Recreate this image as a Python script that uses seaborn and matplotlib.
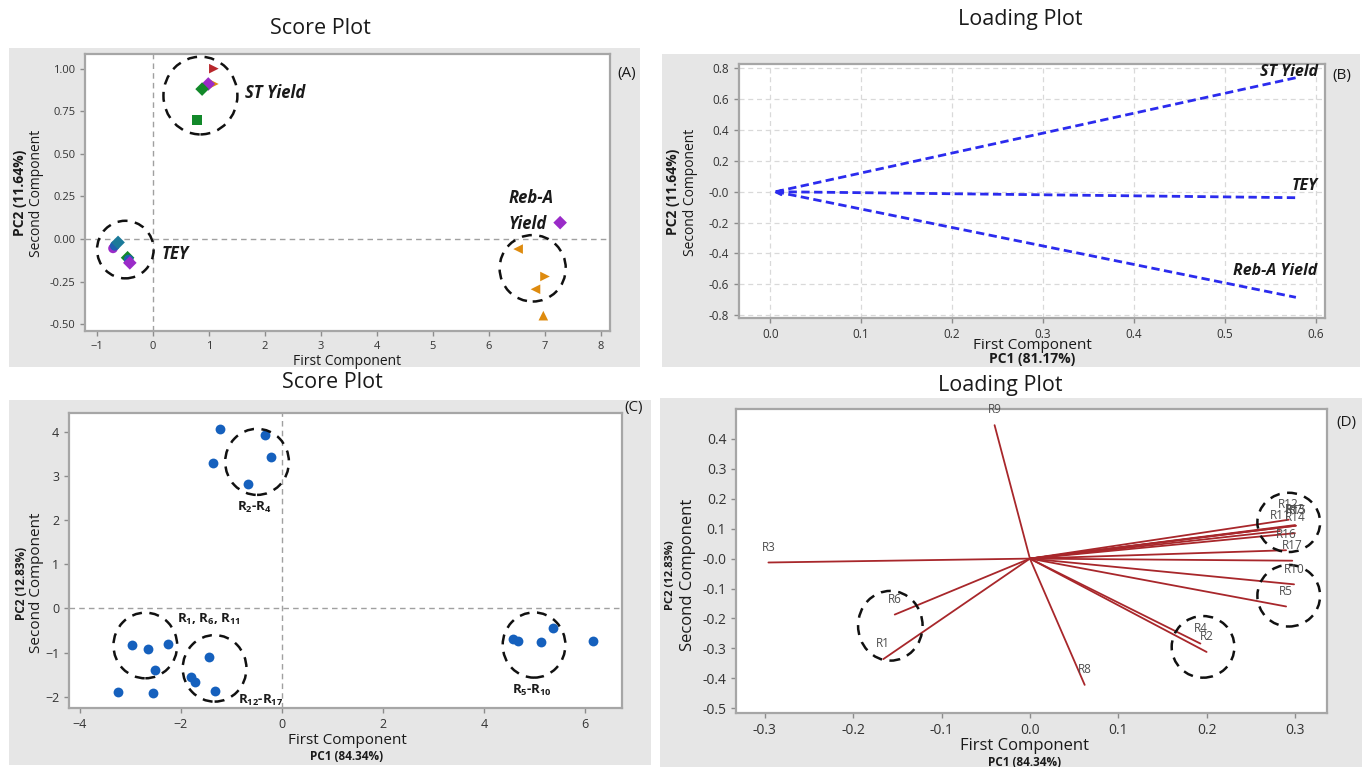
import numpy as np
import pandas as pd
import matplotlib
matplotlib.use("Agg")
import matplotlib.pyplot as plt
import seaborn as sns
from matplotlib.patches import Ellipse, Rectangle

# ---------------- data ----------------
# Panel A : score plot (responses)
A_pc1 = [1.09, 1.09, 0.99, 0.88, 0.79,
         -0.71, -0.68, -0.62, -0.45, -0.43, -0.41,
         7.27, 6.52, 7.00, 6.83, 6.97]
A_pc2 = [1.00, 0.91, 0.91, 0.88, 0.70,
         -0.055, -0.04, -0.02, -0.11, -0.12, -0.14,
         0.096, -0.059, -0.22, -0.295, -0.45]
A_colour = ["red", "orange", "purple", "green", "green",
            "purple", "blue", "teal", "green", "blue", "purple",
            "purple", "orange", "orange", "orange", "orange"]
A_marker = ["tri_r", "tri_r", "diamond", "diamond", "square",
            "circle", "circle", "diamond", "diamond", "circle", "diamond",
            "diamond", "tri_l", "tri_r", "tri_l", "tri_u"]
A_groups = ["ST Yield", "TEY", "Reb-A\nYield"]
A_ell_x = [0.85, -0.49, 6.78]
A_ell_y = [0.842, -0.062, -0.172]
A_ell_w = [1.32, 1.01, 1.18]
A_ell_h = [0.456, 0.338, 0.39]

# Panel B : loading plot (responses)
B_vars = ["ST Yield", "TEY", "Reb-A Yield"]
B_pc1 = [0.578, 0.578, 0.578]
B_pc2 = [0.739, -0.039, -0.685]

# Panel C : score plot (runs)
C_pc1 = [-1.22, -0.33, -0.22, -1.36, -0.67,
         -2.96, -2.64, -2.26, -2.50, -3.25, -2.55,
         -1.44, -1.79, -1.72, -1.33,
         4.57, 4.67, 5.12, 5.36, 6.15]
C_pc2 = [4.08, 3.94, 3.44, 3.30, 2.83,
         -0.83, -0.92, -0.81, -1.40, -1.90, -1.92,
         -1.11, -1.56, -1.67, -1.88,
         -0.70, -0.73, -0.77, -0.45, -0.73]
C_groups = ["R$_2$-R$_4$", "R$_1$, R$_6$, R$_{11}$", "R$_{12}$-R$_{17}$", "R$_5$-R$_{10}$"]
C_ell_x = [-0.49, -2.70, -1.33, 4.99]
C_ell_y = [3.33, -0.84, -1.36, -0.83]
C_ell_w = [1.26, 1.26, 1.26, 1.24]
C_ell_h = [1.50, 1.49, 1.51, 1.48]

# Panel D : loading plot (runs)
D_vars = ["R1", "R2", "R3", "R4", "R5", "R6", "R7", "R8", "R9", "R10",
          "R11", "R12", "R13", "R14", "R15", "R16", "R17"]
D_pc1 = [-0.166, 0.200, -0.296, 0.193, 0.290, -0.153, 0.301, 0.062, -0.040, 0.299,
         0.283, 0.293, 0.300, 0.300, 0.301, 0.290, 0.297]
D_pc2 = [-0.336, -0.312, -0.013, -0.284, -0.160, -0.187, 0.110, -0.422, 0.446, -0.086,
         0.092, 0.130, 0.112, 0.085, 0.110, 0.028, -0.007]
D_ell_x = [-0.158, 0.196, 0.293, 0.293]
D_ell_y = [-0.2245, -0.295, -0.124, 0.121]
D_ell_w = [0.073, 0.071, 0.071, 0.071]
D_ell_h = [0.233, 0.206, 0.206, 0.198]

# ---------------- style ----------------
sns.set_theme(style="ticks")
plt.rcParams["font.family"] = ["Open Sans", "DejaVu Sans"]
plt.rcParams["mathtext.fontset"] = "custom"
plt.rcParams["mathtext.rm"] = "Open Sans:bold"
plt.rcParams["mathtext.bf"] = "Open Sans:bold"
plt.rcParams["mathtext.default"] = "rm"

W, H = 1366, 767
fig = plt.figure(figsize=(W / 100, H / 100), dpi=100, facecolor="white")

def fx(px):
    return px / W

def fy(py):
    return 1 - py / H

def panel(bg, box):
    x0, y0, x1, y1 = bg
    fig.patches.append(Rectangle((fx(x0), fy(y1)), fx(x1 - x0), (y1 - y0) / H,
                                 transform=fig.transFigure, facecolor="#E6E6E6",
                                 edgecolor="none", zorder=-10))
    a0, b0, a1, b1 = box
    ax = fig.add_axes([fx(a0), fy(b1), fx(a1 - a0), (b1 - b0) / H])
    ax.set_zorder(1)
    ax.set_facecolor("white")
    for s in ax.spines.values():
        s.set_color("#A6A6A6")
        s.set_linewidth(1.6)
    ax.tick_params(colors="#8C8C8C", labelcolor="#333333", length=3.5, width=1)
    return ax

TXT = "#1A1A1A"

# ---------------- Panel A ----------------
axA = panel((9, 48, 640, 367), (85, 54, 610, 331))
dfA = pd.DataFrame({"pc1": A_pc1, "pc2": A_pc2, "col": A_colour, "mk": A_marker})
palA = {"red": "#B8262B", "orange": "#DE8B0F", "purple": "#9A2BC8",
        "green": "#12892A", "blue": "#1F5FB0", "teal": "#1B7A9A"}
mkA = {"tri_r": ">", "tri_l": "<", "tri_u": "^", "diamond": "D", "square": "s", "circle": "o"}
sns.scatterplot(data=dfA, x="pc1", y="pc2", hue="col", style="mk", palette=palA,
                markers=mkA, s=48, linewidth=0, legend=False, ax=axA, zorder=3)
axA.axvline(0, color="#A0A0A0", ls=(0, (4, 3)), lw=1, zorder=1)
axA.axhline(0, color="#A0A0A0", ls=(0, (4, 3)), lw=1, zorder=1)
for x, y, w, h in zip(A_ell_x, A_ell_y, A_ell_w, A_ell_h):
    axA.add_patch(Ellipse((x, y), w, h, fill=False, ec="#111111", lw=1.8, ls=(0, (4, 3)), zorder=4))
axA.text(1.65, 0.86, A_groups[0], fontsize=12, fontweight="bold", style="italic", color=TXT, va="center")
axA.text(0.15, -0.09, A_groups[1], fontsize=12, fontweight="bold", style="italic", color=TXT, va="center")
axA.text(6.35, 0.165, A_groups[2], fontsize=12, fontweight="bold", style="italic", color=TXT,
         va="center", linespacing=1.55)
axA.set_xlim(-1.21, 8.16)
axA.set_ylim(-0.54, 1.086)
axA.set_xticks(np.arange(-1, 9, 1))
axA.set_yticks([-0.5, -0.25, 0, 0.25, 0.5, 0.75, 1.0])
axA.set_yticklabels([f"{v:.2f}" for v in [-0.5, -0.25, 0, 0.25, 0.5, 0.75, 1.0]])
axA.tick_params(labelsize=8)
axA.set_xlabel("")
axA.set_ylabel("")
fig.text(fx(347), fy(361), "First Component", fontsize=10, ha="center", va="center", color=TXT)
fig.text(fx(20), fy(193), "PC2 (11.64%)", fontsize=10, fontweight="bold", rotation=90,
         ha="center", va="center", color=TXT)
fig.text(fx(37), fy(193), "Second Component", fontsize=10, rotation=90, ha="center", va="center", color=TXT)
fig.text(fx(627), fy(73), "(A)", fontsize=11, ha="center", va="center", color=TXT)
fig.text(fx(320), fy(28), "Score Plot", fontsize=15.5, ha="center", va="center", color=TXT)

# ---------------- Panel B ----------------
axB = panel((662, 54, 1360, 367), (739, 64, 1325, 318))
ORIGIN_B = (0.006, 0.0)
rows = []
for v, x, y in zip(B_vars, B_pc1, B_pc2):
    rows.append({"var": v, "pc1": ORIGIN_B[0], "pc2": ORIGIN_B[1]})
    rows.append({"var": v, "pc1": x, "pc2": y})
dfB = pd.DataFrame(rows)
sns.lineplot(data=dfB, x="pc1", y="pc2", units="var", estimator=None, sort=False,
             color="#2B2BEE", lw=2.0, ls=(0, (3, 1.6)), ax=axB, zorder=3)
axB.plot([ORIGIN_B[0] + 0.002], [ORIGIN_B[1]], marker="<", color="#2B2BEE", ms=5, zorder=4)
axB.grid(True, color="#D9D9D9", ls=(0, (4, 3)), lw=0.9)
axB.set_axisbelow(True)
labB_off = [0.04, 0.078, 0.17]
for v, x, y, d in zip(B_vars, B_pc1, B_pc2, labB_off):
    axB.text(x + 0.024, y + d, v, fontsize=11.5, fontweight="bold", style="italic",
             color=TXT, ha="right", va="center")
axB.set_xlim(-0.0344, 0.610)
axB.set_ylim(-0.819, 0.828)
axB.set_xticks(np.round(np.arange(0, 0.61, 0.1), 1))
axB.set_xticklabels([f"{v:.1f}" for v in np.arange(0, 0.61, 0.1)])
axB.set_yticks(np.round(np.arange(-0.8, 0.81, 0.2), 1))
axB.set_yticklabels([f"{v:.1f}" for v in np.arange(-0.8, 0.81, 0.2)])
axB.tick_params(labelsize=8.5)
axB.set_xlabel("")
axB.set_ylabel("")
fig.text(fx(1032), fy(346), "First Component", fontsize=11, ha="center", va="center", color=TXT)
fig.text(fx(1032), fy(359), "PC1 (81.17%)", fontsize=10, fontweight="bold", ha="center", va="center", color=TXT)
fig.text(fx(673), fy(192), "PC2 (11.64%)", fontsize=10, fontweight="bold", rotation=90,
         ha="center", va="center", color=TXT)
fig.text(fx(691), fy(192), "Second Component", fontsize=10, rotation=90, ha="center", va="center", color=TXT)
fig.text(fx(1342), fy(75), "(B)", fontsize=11, ha="center", va="center", color=TXT)
fig.text(fx(1020), fy(20), "Loading Plot", fontsize=15.5, ha="center", va="center", color=TXT)

# ---------------- Panel C ----------------
axC = panel((9, 400, 651, 765), (69, 413, 622, 708))
dfC = pd.DataFrame({"pc1": C_pc1, "pc2": C_pc2})
sns.scatterplot(data=dfC, x="pc1", y="pc2", color="#1560BD", s=50, linewidth=0, ax=axC, zorder=3)
axC.axvline(0, color="#A0A0A0", ls=(0, (4, 3)), lw=1, zorder=1)
axC.axhline(0, color="#A0A0A0", ls=(0, (4, 3)), lw=1, zorder=1)
for x, y, w, h in zip(C_ell_x, C_ell_y, C_ell_w, C_ell_h):
    axC.add_patch(Ellipse((x, y), w, h, fill=False, ec="#111111", lw=1.8, ls=(0, (4, 3)), zorder=4))
C_lab_x = [-0.54, -2.07, -0.87, 4.95]
C_lab_y = [2.30, -0.26, -2.09, -1.87]
C_lab_ha = ["center", "left", "left", "center"]
for t, x, y, ha in zip(C_groups, C_lab_x, C_lab_y, C_lab_ha):
    axC.text(x, y, t, fontsize=9.5, fontweight="bold", color=TXT, ha=ha, va="center")
axC.set_xlim(-4.21, 6.73)
axC.set_ylim(-2.26, 4.44)
axC.set_xticks([-4, -2, 0, 2, 4, 6])
axC.set_yticks([-2, -1, 0, 1, 2, 3, 4])
axC.tick_params(labelsize=9)
axC.set_xlabel("")
axC.set_ylabel("")
fig.text(fx(347), fy(741), "First Component", fontsize=11, ha="center", va="center", color=TXT)
fig.text(fx(347), fy(756), "PC1 (84.34%)", fontsize=8.5, fontweight="bold", ha="center", va="center", color=TXT)
fig.text(fx(22), fy(583), "PC2 (12.83%)", fontsize=8.5, fontweight="bold", rotation=90,
         ha="center", va="center", color=TXT)
fig.text(fx(37), fy(583), "Second Component", fontsize=11, rotation=90, ha="center", va="center", color=TXT)
fig.text(fx(634), fy(408), "(C)", fontsize=11, ha="center", va="center", color=TXT)
fig.text(fx(332), fy(382), "Score Plot", fontsize=15.5, ha="center", va="center", color=TXT)

# ---------------- Panel D ----------------
axD = panel((660, 398, 1362, 767), (736, 409, 1327, 713))
rows = []
for v, x, y in zip(D_vars, D_pc1, D_pc2):
    rows.append({"var": v, "pc1": 0.0, "pc2": 0.0})
    rows.append({"var": v, "pc1": x, "pc2": y})
dfD = pd.DataFrame(rows)
sns.lineplot(data=dfD, x="pc1", y="pc2", units="var", estimator=None, sort=False,
             color="#A8272B", lw=1.3, ax=axD, zorder=3)
for v, x, y in zip(D_vars, D_pc1, D_pc2):
    axD.annotate(v, (x, y), xytext=(0, 11), textcoords="offset points", fontsize=8.5,
                 color="#4D4D4D", ha="center", va="center", zorder=5)
for x, y, w, h in zip(D_ell_x, D_ell_y, D_ell_w, D_ell_h):
    axD.add_patch(Ellipse((x, y), w, h, fill=False, ec="#111111", lw=1.8, ls=(0, (4, 3)), zorder=4))
axD.set_xlim(-0.3327, 0.3363)
axD.set_ylim(-0.516, 0.50)
axD.set_xticks(np.round(np.arange(-0.3, 0.31, 0.1), 1))
axD.set_xticklabels([f"{v:.1f}" for v in np.round(np.arange(-0.3, 0.31, 0.1), 1)])
axD.set_yticks(np.round(np.arange(-0.5, 0.41, 0.1), 1))
axD.set_yticklabels([f"{v:.1f}" for v in np.round(np.arange(-0.5, 0.41, 0.1), 1)])
axD.tick_params(labelsize=10)
axD.set_xlabel("")
axD.set_ylabel("")
fig.text(fx(1025), fy(746), "First Component", fontsize=12, ha="center", va="center", color=TXT)
fig.text(fx(1025), fy(762), "PC1 (84.34%)", fontsize=8.5, fontweight="bold", ha="center", va="center", color=TXT)
fig.text(fx(670), fy(575), "PC2 (12.83%)", fontsize=8, fontweight="bold", rotation=90,
         ha="center", va="center", color=TXT)
fig.text(fx(688), fy(575), "Second Component", fontsize=12, rotation=90, ha="center", va="center", color=TXT)
fig.text(fx(1346), fy(422), "(D)", fontsize=11, ha="center", va="center", color=TXT)
fig.text(fx(1000), fy(385), "Loading Plot", fontsize=15.5, ha="center", va="center", color=TXT)

fig.savefig("out.png", dpi=100, facecolor="white")
